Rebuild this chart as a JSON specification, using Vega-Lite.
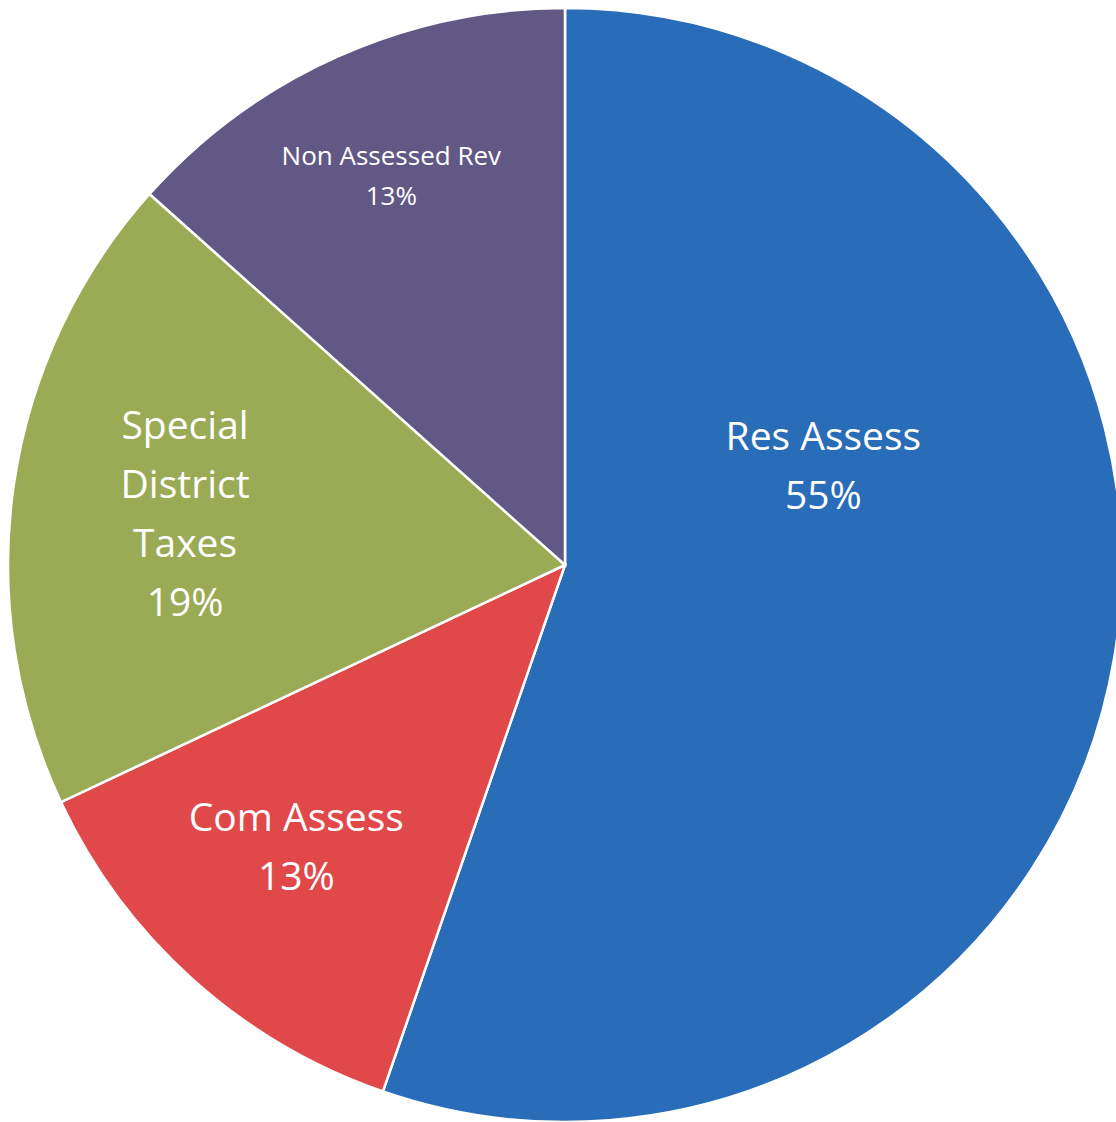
{
  "$schema": "https://vega.github.io/schema/vega-lite/v6.json",
  "width": 1114,
  "height": 1114,
  "padding": {"left": 8, "top": 8, "right": 0, "bottom": 0},
  "autosize": {"type": "none"},
  "background": "white",
  "view": {"stroke": null},
  "data": {
    "values": [
      {"idx": 1, "cat": "Res Assess", "value": 55.3, "label": "Res Assess\n55%"},
      {"idx": 2, "cat": "Com Assess", "value": 12.7, "label": "Com Assess\n13%"},
      {"idx": 3, "cat": "Special District Taxes", "value": 18.6, "label": "Special\nDistrict\nTaxes\n19%"},
      {"idx": 4, "cat": "Non Assessed Rev", "value": 13.4, "label": "Non Assessed Rev\n13%"}
    ]
  },
  "encoding": {
    "theta": {"field": "value", "type": "quantitative", "stack": true},
    "order": {"field": "idx", "type": "quantitative"},
    "color": {
      "field": "cat",
      "type": "nominal",
      "scale": {
        "domain": ["Res Assess", "Com Assess", "Special District Taxes", "Non Assessed Rev"],
        "range": ["#296CB8", "#E0484A", "#9BAA55", "#615886"]
      },
      "legend": null
    }
  },
  "layer": [
    {"mark": {"type": "arc", "outerRadius": 557, "stroke": "white", "strokeWidth": 2.5}},
    {
      "mark": {"type": "text", "radius": 425, "dy": -20, "fontSize": 26, "font": "Open Sans", "lineBreak": "\n", "lineHeight": 40},
      "encoding": {
        "color": {"value": "white"},
        "text": {"condition": {"test": "datum.cat === 'Non Assessed Rev'", "field": "label"}, "value": ""}
      }
    },
    {
      "mark": {"type": "text", "radius": 390, "dx": -8, "dy": -36, "fontSize": 39, "font": "Open Sans", "lineBreak": "\n", "lineHeight": 59},
      "encoding": {
        "color": {"value": "white"},
        "text": {"condition": {"test": "datum.cat === 'Com Assess'", "field": "label"}, "value": ""}
      }
    },
    {
      "mark": {"type": "text", "radius": 390, "dx": 6, "dy": -82, "fontSize": 39, "font": "Open Sans", "lineBreak": "\n", "lineHeight": 59},
      "encoding": {
        "color": {"value": "white"},
        "text": {"condition": {"test": "datum.cat === 'Special District Taxes'", "field": "label"}, "value": ""}
      }
    },
    {
      "mark": {"type": "text", "radius": 262, "dy": -170, "fontSize": 39, "font": "Open Sans", "lineBreak": "\n", "lineHeight": 59},
      "encoding": {
        "color": {"value": "white"},
        "text": {"condition": {"test": "datum.cat === 'Res Assess'", "field": "label"}, "value": ""}
      }
    }
  ]
}
